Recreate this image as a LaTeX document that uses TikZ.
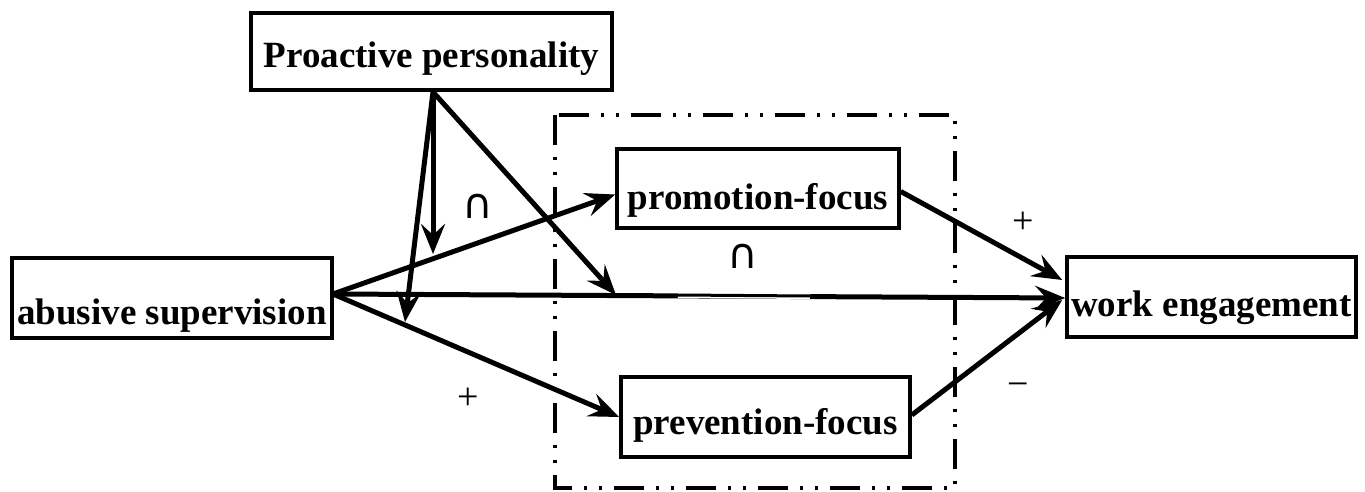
\documentclass[tikz,border=0pt]{standalone}
\usepackage{fontspec}
\setmainfont{Liberation Serif}
\newfontfamily\symfont{DejaVu Sans}
\usetikzlibrary{arrows.meta,calc}
\begin{document}
\begin{tikzpicture}[x=1pt,y=-1pt,
  box/.style={draw,line width=3.6pt,inner sep=0pt,text depth=0pt,font=\fontsize{37}{40}\selectfont\bfseries},
  conn/.style={line width=5pt,-{Stealth[length=30pt,width=24pt,inset=11pt]}},
  sign/.style={font=\fontsize{38}{40}\selectfont},
  capsym/.style={font=\fontsize{42}{44}\selectfont\symfont},
  frame/.style={line width=3.2pt,dash pattern=on 30pt off 12pt on 3pt off 12pt on 3pt off 12pt}]
\useasboundingbox (0,0) rectangle (1365,492);
% frame
\draw[frame] (555,115) rectangle (955,488);
% nodes
\node[box,text height=32pt,minimum width=361pt,minimum height=77pt] (pro) at (431.5,51.5) {Proactive personality};
\node[box,text height=52pt,minimum width=320pt,minimum height=80pt] (abu) at (172,298) {abusive supervision};
\node[box,text height=38pt,minimum width=289pt,minimum height=80pt] (work) at (1211.5,297) {work engagement};
\node[box,text height=42pt,minimum width=282pt,minimum height=79pt] (prom) at (758,188.5) {promotion-focus};
\node[box,text height=34pt,minimum width=289pt,minimum height=80pt] (prev) at (765.5,417) {prevention-focus};
% coordinates
\coordinate (s) at (333,294);
\coordinate (top) at (433,92);
\coordinate (t1) at (433,254);
\coordinate (t2) at (405,322);
\coordinate (t3) at (616,295);
\coordinate (gl) at (678,295);
\coordinate (gr) at (810,296);
% connectors
\draw[conn] (s) -- ($(prom.west)+(0,6)$);
\draw[conn] (s) -- (prev.west);
\draw[conn] (s) -- ($(work.west)+(0,1)$);
\draw[white,line width=6pt] (gl) -- (gr);
\draw[line width=3pt] (gl) -- (gr);
\draw[conn] (top) -- (t1);
\draw[conn] (top) -- (t2);
\draw[conn] (top) -- (t3);
\draw[conn] ($(prom.east)+(0,3)$) -- ($(work.west)+(-3,-17)$);
\draw[conn] ($(prev.east)+(0,-2)$) -- ($(work.west)+(-3,3)$);
% labels
\node[capsym] (c1) at (478,206) {∩};
\node[capsym] (c2) at (743,256) {∩};
\node[sign] (p1) at (1023,223) {+};
\node[sign] (m1) at (1018,390) {−};
\node[sign] (p2) at (468,399) {+};
\end{tikzpicture}
\end{document}
